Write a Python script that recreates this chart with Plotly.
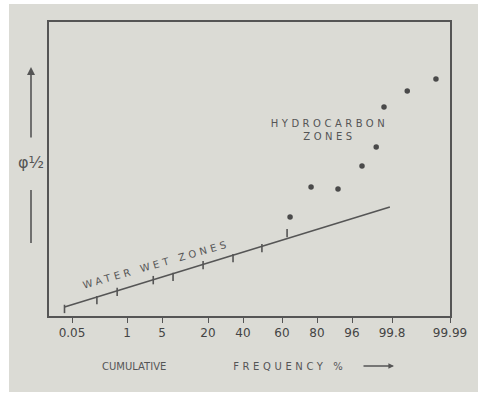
import numpy as np
import plotly.graph_objects as go

# Hand-drawn probability scale of the x axis (cumulative frequency %)
scale_freq = [0.01, 0.05, 1, 5, 20, 40, 60, 80, 96, 99.8, 99.99]
scale_pos = [-1.0, 0.0, 5.5, 9.0, 13.6, 17.1, 21.0, 24.5, 28.0, 32.0, 37.8]
tick_freq = [0.05, 1, 5, 20, 40, 60, 80, 96, 99.8, 99.99]
tick_text = ["0.05", "1", "5", "20", "40", "60", "80", "96", "99.8", "99.99"]

# Water wet zone points
wet_freq = [0.02, 0.48, 0.83, 4.0, 8.6, 18.4, 34.3, 49.7, 62.9]
wet_val = [0.24, 0.54, 0.82, 1.22, 1.33, 1.73, 1.97, 2.31, 2.82]

# Hydrocarbon zone points
hc_freq = [64.6, 76.6, 89.6, 96.95, 98.3, 99.04, 99.85, 99.944]
hc_val = [3.37, 4.39, 4.32, 5.10, 5.75, 7.11, 7.65, 8.06]

# Water wet trend line
line_freq = [0.02, 99.6]
line_val = [0.31, 3.71]


def to_scale(f):
    return np.interp(f, scale_freq, scale_pos)


ink = "#555555"
paper = "#dbdbd5"
font = "DejaVu Sans"

fig = go.Figure()
fig.add_trace(go.Scatter(x=to_scale(line_freq), y=line_val, mode="lines",
                         line=dict(color=ink, width=1.6), showlegend=False, hoverinfo="skip"))
fig.add_trace(go.Scatter(x=to_scale(wet_freq), y=wet_val, mode="markers",
                         marker=dict(symbol="line-ns", size=6, line=dict(color=ink, width=1.6)),
                         showlegend=False))
fig.add_trace(go.Scatter(x=to_scale(hc_freq), y=hc_val, mode="markers",
                         marker=dict(symbol="circle", size=5.5, color="#4a4a4a"),
                         showlegend=False))

# plot area: x 49..450, y 22..316 in a 478x394 window
def px(x):
    return (x - 49) / 401


def py(y):
    return (316 - y) / 294


shapes = [
    dict(type="rect", xref="paper", yref="paper", x0=px(9), x1=px(480), y0=py(392), y1=py(4),
         fillcolor=paper, line=dict(width=0), layer="below"),
    dict(type="line", xref="paper", yref="paper", x0=px(31), x1=px(31), y0=py(190), y1=py(243),
         line=dict(color=ink, width=1.6)),
]

annotations = [
    dict(xref="paper", yref="paper", x=px(31), y=py(67), ax=0, ay=72, text="", showarrow=True,
         arrowhead=2, arrowsize=1, arrowwidth=1.6, arrowcolor=ink),
    dict(xref="paper", yref="paper", x=px(31), y=py(162), text="φ½", showarrow=False,
         xanchor="center", yanchor="middle", font=dict(family=font, size=16, color=ink)),
    dict(x=to_scale(4.3), y=1.75, text="WATER WET ZONES", showarrow=False, textangle=-16,
         xanchor="center", yanchor="middle", font=dict(family=font, size=10, color=ink)),
    dict(x=to_scale(85.5), y=6.34, text="HYDROCARBON<br>ZONES", showarrow=False,
         xanchor="center", yanchor="middle", font=dict(family=font, size=10, color=ink)),
    dict(xref="paper", yref="paper", x=px(134), y=py(366), xanchor="center", yanchor="middle",
         text="CUMULATIVE", showarrow=False, font=dict(family=font, size=10, color=ink)),
    dict(xref="paper", yref="paper", x=px(290), y=py(366), xanchor="center", yanchor="middle",
         text="FREQUENCY %", showarrow=False, font=dict(family=font, size=10, color=ink)),
    dict(xref="paper", yref="paper", x=px(394), y=py(366), ax=-32, ay=0, text="", showarrow=True,
         arrowhead=2, arrowsize=0.8, arrowwidth=1.4, arrowcolor=ink),
]

fig.update_layout(
    width=478, height=394,
    margin=dict(l=49, r=28, t=22, b=78),
    paper_bgcolor="white",
    plot_bgcolor="rgba(0,0,0,0)",
    shapes=shapes,
    annotations=annotations,
    xaxis=dict(range=[-2.3, 37.8], tickmode="array", tickvals=to_scale(tick_freq), ticktext=tick_text,
               showgrid=False, zeroline=False, showline=True, mirror=True, linecolor=ink, linewidth=1.6,
               ticks="outside", ticklen=5, tickwidth=1.4, tickcolor=ink,
               tickfont=dict(family=font, size=12, color="#444444")),
    yaxis=dict(range=[0, 10], showticklabels=False, showgrid=False, zeroline=False, showline=True,
               mirror=True, linecolor=ink, linewidth=1.6, ticks=""),
)

post = """
document.body.style.margin='0';
document.querySelectorAll('text.annotation-text').forEach(function(t){
  var s = t.textContent;
  if (s.indexOf('HYDRO') >= 0) { t.style.letterSpacing = '3.5px'; }
  else if (s.indexOf('WATER') >= 0) { t.style.letterSpacing = '3.6px'; }
  else if (s.indexOf('FREQ') >= 0) { t.style.letterSpacing = '3.6px'; }
});
"""

fig.write_html("out.html", post_script=post, config={"displayModeBar": False})
